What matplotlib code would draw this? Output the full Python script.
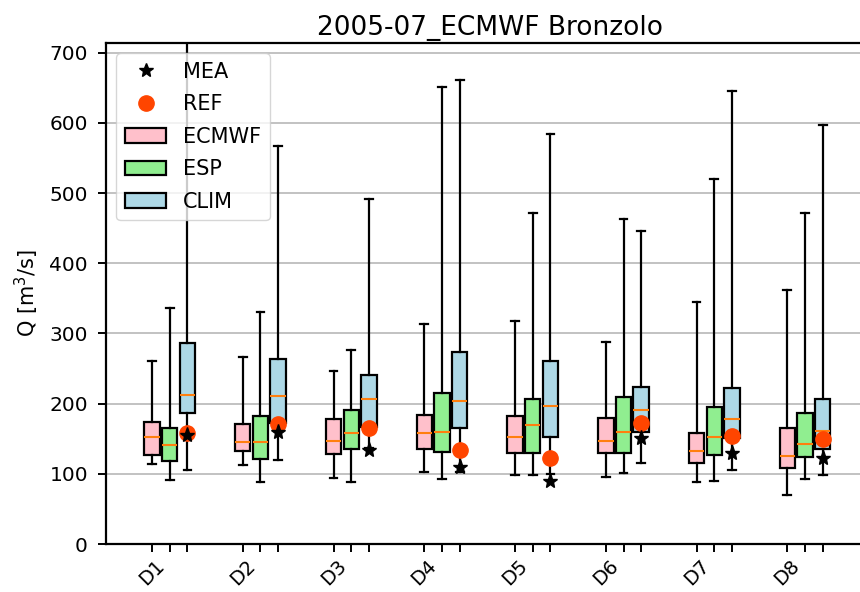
import matplotlib
matplotlib.use("Agg")
import matplotlib.pyplot as plt
from matplotlib.patches import Patch
from matplotlib.lines import Line2D
import numpy as np

plt.rcParams["savefig.bbox"] = None

days = ["D1", "D2", "D3", "D4", "D5", "D6", "D7", "D8"]
series = ["ECMWF", "ESP", "CLIM"]
colors = ["pink", "lightgreen", "lightblue"]

# per series: whislo, q1, med, q3, whishi
ecmwf_whislo = [114, 112, 94, 103, 99, 96, 88, 70]
ecmwf_q1 = [127, 132, 128, 136, 129, 129, 116, 109]
ecmwf_med = [152, 145, 147, 158, 152, 147, 133, 125]
ecmwf_q3 = [174, 171, 178, 184, 182, 180, 158, 166]
ecmwf_whishi = [261, 266, 246, 314, 318, 288, 345, 362]

esp_whislo = [91, 88, 88, 92, 99, 101, 90, 93]
esp_q1 = [119, 121, 136, 131, 129, 129, 127, 124]
esp_med = [141, 145, 158, 160, 169, 160, 152, 143]
esp_q3 = [166, 182, 191, 215, 206, 209, 195, 187]
esp_whishi = [336, 331, 276, 652, 472, 463, 520, 472]

clim_whislo = [105, 120, 137, 103, 100, 116, 105, 99]
clim_q1 = [186, 172, 167, 165, 152, 160, 151, 136]
clim_med = [213, 211, 206, 204, 197, 191, 178, 161]
clim_q3 = [287, 263, 241, 274, 261, 224, 222, 206]
clim_whishi = [790, 567, 491, 661, 584, 446, 645, 597]

mea = [156, 160, 134, 110, 90, 151, 130, 122]
ref = [158, 171, 165, 134, 123, 173, 154, 150]

all_stats = [
    (ecmwf_whislo, ecmwf_q1, ecmwf_med, ecmwf_q3, ecmwf_whishi),
    (esp_whislo, esp_q1, esp_med, esp_q3, esp_whishi),
    (clim_whislo, clim_q1, clim_med, clim_q3, clim_whishi),
]

fig = plt.figure(figsize=(8.6, 5.92), dpi=100)
ax = fig.add_axes([106 / 860, 48 / 592, 768 / 860, 501 / 592])

offset = 0.195
width = 0.17
base = np.arange(len(days))
all_pos = []
for k, (lo, q1, med, q3, hi) in enumerate(all_stats):
    stats = []
    for i in range(len(days)):
        stats.append(dict(whislo=lo[i], q1=q1[i], med=med[i], q3=q3[i],
                          whishi=hi[i], fliers=[]))
    pos = base + k * offset
    all_pos.append(pos)
    ax.bxp(stats, positions=pos, widths=width, patch_artist=True,
           showfliers=False, manage_ticks=False,
           boxprops=dict(facecolor=colors[k], edgecolor="black", linewidth=1.6),
           whiskerprops=dict(color="black", linewidth=1.6),
           capprops=dict(color="black", linewidth=1.6),
           medianprops=dict(color="#ff7f0e", linewidth=1.5),
           zorder=2)

clim_pos = base + 2 * offset
ax.plot(clim_pos, ref, "o", color="#ff4500", markersize=11, linestyle="none", zorder=3)
ax.plot(clim_pos, mea, "*", color="black", markersize=11, linestyle="none", zorder=4)

ticks = np.sort(np.concatenate(all_pos))
labels = []
for t in ticks:
    idx = int(round(t)) if abs(t - round(t)) < 1e-6 else None
    labels.append(days[idx] if idx is not None else "")
ax.set_xticks(ticks)
ax.set_xticklabels(labels, rotation=45, fontsize=14)
ax.tick_params(axis="y", labelsize=14.5, pad=7)
ax.tick_params(axis="x", pad=3)
ax.tick_params(axis="both", length=6, width=1.4)

ax.set_xlim(-0.507, 7.955)
ax.set_ylim(0, 714)
ax.set_yticks(np.arange(0, 701, 100))
ax.yaxis.grid(True, color="#b8b8b8", linewidth=1.2)
ax.set_axisbelow(True)
for s in ax.spines.values():
    s.set_linewidth(1.6)
ax.spines["right"].set_visible(False)

ax.set_ylabel("Q [m$^3$/s]", fontsize=15, labelpad=6)
ax.set_title("2005-07_ECMWF Bronzolo", fontsize=19)

handles = [
    Line2D([], [], marker="*", color="black", linestyle="none", markersize=10),
    Line2D([], [], marker="o", color="#ff4500", linestyle="none", markersize=11),
    Patch(facecolor=colors[0], edgecolor="black", linewidth=1.6),
    Patch(facecolor=colors[1], edgecolor="black", linewidth=1.6),
    Patch(facecolor=colors[2], edgecolor="black", linewidth=1.6),
]
ax.legend(handles, ["MEA", "REF"] + series, loc="upper left", fontsize=15,
          labelspacing=0.6)

fig.savefig("out.png", dpi=100, bbox_inches=None)
